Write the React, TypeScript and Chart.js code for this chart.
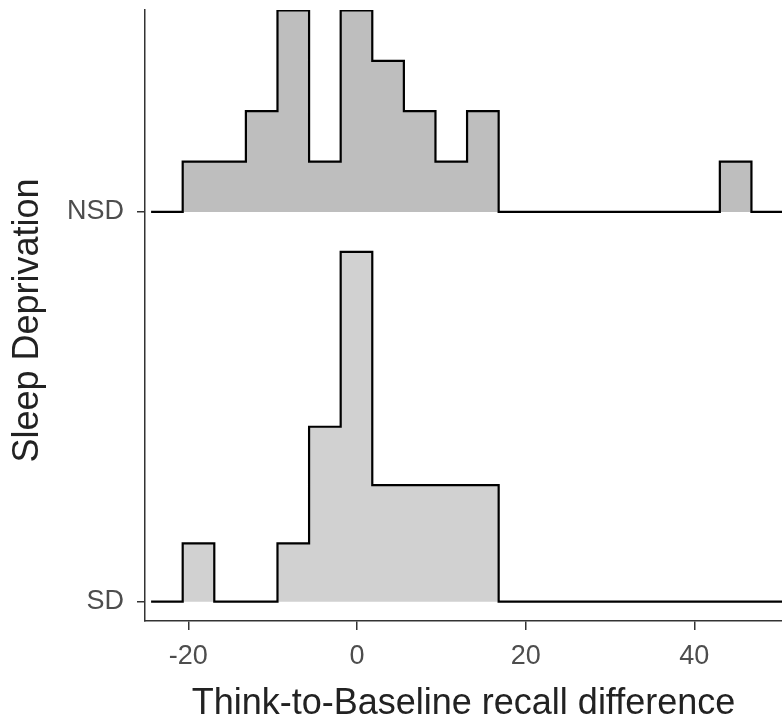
import React, { useEffect, useRef } from "react";
import { Chart, registerables } from "chart.js";

Chart.register(...registerables);

// ---- data ----
const GROUPS = ["SD", "NSD"]; // y positions 1, 2
const BIN_START = -20.67; // left edge of first bin
const BIN_WIDTH = 3.747;
const NSD_COUNTS = [1, 1, 2, 4, 1, 4, 3, 2, 1, 2, 0, 0, 0, 0, 0, 0, 0, 1];
const SD_COUNTS = [1, 0, 0, 1, 3, 6, 2, 2, 2, 2, 0, 0, 0, 0, 0, 0, 0, 0];
const X_TICKS = [-20, 0, 20, 40];
const X_MIN = -25.14;
const X_MAX = 50.4;
const Y_MIN = 0.9505;
const Y_MAX = 2.518;
const RIDGE_SCALE = 10.65; // ridge height per unit density
const X_TITLE = "Think-to-Baseline recall difference";
const Y_TITLE = "Sleep Deprivation";

function ridgePoints(counts: number[], baseline: number) {
  const n = counts.reduce((a, b) => a + b, 0);
  const padded = [0, ...counts, 0];
  const pts: { x: number; y: number }[] = [];
  padded.forEach((c, i) => {
    const x = BIN_START + (i - 1) * BIN_WIDTH;
    pts.push({ x, y: baseline + (c / (n * BIN_WIDTH)) * RIDGE_SCALE });
  });
  const last = padded[padded.length - 1];
  pts.push({
    x: BIN_START + (padded.length - 1) * BIN_WIDTH,
    y: baseline + (last / (n * BIN_WIDTH)) * RIDGE_SCALE,
  });
  return pts;
}

const yTitlePlugin = {
  id: "yTitle",
  afterDraw(chart: any) {
    const { ctx, chartArea } = chart;
    ctx.save();
    ctx.translate(28, (chartArea.top + chartArea.bottom) / 2 + 5);
    ctx.rotate(-Math.PI / 2);
    ctx.font = "36px 'Liberation Sans'";
    ctx.fillStyle = "#222222";
    ctx.textAlign = "center";
    ctx.textBaseline = "middle";
    ctx.fillText(Y_TITLE, 0, 0);
    ctx.restore();
  },
};

export default function App() {
  const ref = useRef<HTMLCanvasElement | null>(null);
  useEffect(() => {
    if (!ref.current) return;
    const axisColor = "#333333";
    const chart = new Chart(ref.current, {
      type: "line",
      plugins: [yTitlePlugin],
      data: {
        datasets: [
          {
            label: "NSD",
            data: ridgePoints(NSD_COUNTS, 2),
            stepped: "before",
            borderColor: "#000000",
            borderWidth: 2.2,
            backgroundColor: "#bebebe",
            fill: { value: 2 },
            pointRadius: 0,
          },
          {
            label: "SD",
            data: ridgePoints(SD_COUNTS, 1),
            stepped: "before",
            borderColor: "#000000",
            borderWidth: 2.2,
            backgroundColor: "#d1d1d1",
            fill: { value: 1 },
            pointRadius: 0,
          },
        ],
      },
      options: {
        animation: false,
        responsive: false,
        devicePixelRatio: 1,
        layout: { padding: { top: 10, right: 0, left: 0, bottom: 0 } },
        plugins: { legend: { display: false }, tooltip: { enabled: false } },
        scales: {
          x: {
            type: "linear",
            min: X_MIN,
            max: X_MAX,
            afterBuildTicks: (s: any) => {
              s.ticks = X_TICKS.map((v) => ({ value: v }));
            },
            afterFit: (s: any) => {
              s.height = 105;
              s.paddingLeft = 0;
              s.paddingRight = 0;
            },
            grid: {
              drawOnChartArea: false,
              drawTicks: true,
              tickLength: 9,
              color: axisColor,
              lineWidth: 1.5,
            },
            border: { display: true, color: axisColor, width: 1.5 },
            ticks: {
              color: "#4d4d4d",
              font: { family: "Liberation Sans", size: 27 },
              padding: 10,
              maxRotation: 0,
              callback: (v: any) => String(v),
            },
            title: {
              display: true,
              text: X_TITLE,
              color: "#222222",
              font: { family: "Liberation Sans", size: 36 },
              padding: { top: 0, bottom: 0 },
            },
          },
          y: {
            type: "linear",
            min: Y_MIN,
            max: Y_MAX,
            afterBuildTicks: (s: any) => {
              s.ticks = GROUPS.map((_, i) => ({ value: i + 1 }));
            },
            afterFit: (s: any) => {
              s.width = 145;
              s.paddingTop = 0;
              s.paddingBottom = 0;
            },
            grid: {
              drawOnChartArea: false,
              drawTicks: true,
              tickLength: 8,
              color: axisColor,
              lineWidth: 1.5,
            },
            border: { display: true, color: axisColor, width: 1.5 },
            ticks: {
              color: "#4d4d4d",
              font: { family: "Liberation Sans", size: 27 },
              padding: 13,
              callback: (v: any) => GROUPS[Math.round(Number(v)) - 1] ?? "",
            },
            title: { display: false },
          },
        },
      },
    });
    return () => chart.destroy();
  }, []);
  return (
    <div style={{ position: "fixed", left: 0, top: 0, width: 782, height: 726, background: "#fff" }}>
      <canvas ref={ref} width={782} height={726} style={{ display: "block", width: 782, height: 726 }} />
    </div>
  );
}
